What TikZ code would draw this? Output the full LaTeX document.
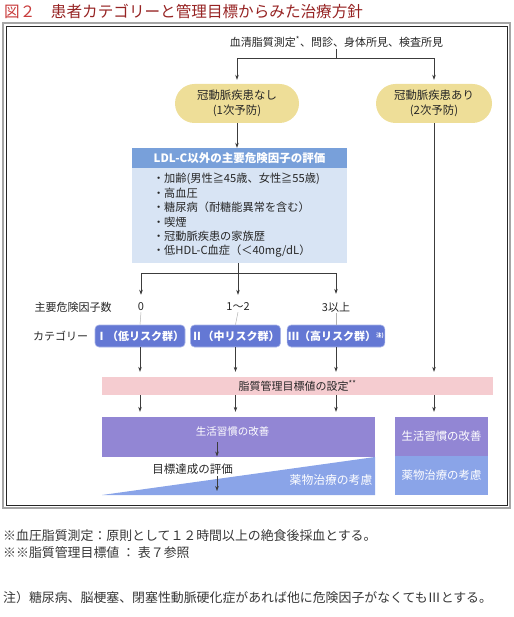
\documentclass[tikz,border=0pt]{standalone}
\usepackage{fontspec}
\usepackage{xcolor}
\usepackage{tikz}
\usetikzlibrary{positioning,shapes.misc,arrows.meta}
\newfontfamily\jpfont{Noto Sans CJK JP}
\definecolor{titlered}{RGB}{200,60,60}
\definecolor{titlebrown}{RGB}{150,35,35}
\definecolor{pillfill}{RGB}{238,222,152}
\definecolor{headblue}{RGB}{120,160,218}
\definecolor{bodyblue}{RGB}{216,228,244}
\definecolor{catblue}{RGB}{100,120,212}
\definecolor{bandpink}{RGB}{245,204,208}
\definecolor{lifepurple}{RGB}{146,134,212}
\definecolor{drugblue}{RGB}{138,164,232}
\definecolor{linegray}{RGB}{60,60,60}
\definecolor{notegray}{RGB}{55,55,55}
\tikzset{
  % --- text ------------------------------------------------------------------
  jtext/.style={font=\jpfont\fontsize{11}{14}\selectfont,inner sep=1pt,
                text=black!85},
  wtext/.style={font=\jpfont\fontsize{#1}{14}\selectfont,inner sep=1pt,
                text=white},
  note/.style={font=\jpfont\fontsize{12.9}{14}\selectfont,inner sep=0pt,
               text=notegray,anchor=west},
  % --- boxes -----------------------------------------------------------------
  pill/.style={rounded rectangle,fill=pillfill,draw=none,minimum width=126pt,
               minimum height=39pt,align=center,inner sep=1pt,
               font=\jpfont\fontsize{11.4}{15}\selectfont,text=black!85},
  catbox/.style={rectangle,rounded corners=4pt,fill=catblue,
                 draw=catblue!55!white,line width=0.6pt,minimum height=22pt,
                 inner sep=1pt,text=white,
                 font=\jpfont\bfseries\fontsize{11}{13}\selectfont},
  % --- connectors ------------------------------------------------------------
  link/.style={linegray,line width=0.6pt},
  faint/.style={black!30,line width=0.5pt},
  arr/.style={link,-{Stealth[length=5pt,width=3.6pt]}},
}

\begin{document}
\begin{tikzpicture}[x=1pt, y=-1pt,
    band/.style={rectangle,fill=bandpink,draw=none,minimum width=391pt,
                 minimum height=18pt,inner sep=0pt,
                 font=\jpfont\fontsize{11}{13}\selectfont,text=black!85},
    lifebox/.style={rectangle,fill=lifepurple,draw=none,inner sep=0pt},
    drugbox/.style={rectangle,fill=drugblue,draw=none,inner sep=0pt}]

  \useasboundingbox (0,0) rectangle (513,617);

  % title and frame
  \node[anchor=west,inner sep=0pt,font=\jpfont\fontsize{15.6}{17}\selectfont]
    (title) at (4,11) {\textcolor{titlered}{図２}\textcolor{titlebrown}{　患者カテゴリーと管理目標からみた治療方針}};
  \draw[black!35,line width=1.2pt] (3,23) rectangle (510,508);
  \draw[black!85,line width=0.9pt] (6,26) rectangle (507,505);

  % top split
  \node[jtext] (src) at (336.5,42) {血清脂質測定\textsuperscript{*}、問診、身体所見、検査所見};
  \coordinate (split) at (336.5,58);
  \node[pill] (pill1) at (237,103.5) {冠動脈疾患なし\\(1次予防)};
  \node[pill,minimum width=118pt] (pill2) at (434,103.5) {冠動脈疾患あり\\(2次予防)};
  \draw[link] (src) -- (split);
  \draw[arr,shorten >=4pt] (split) -| (pill1.north);
  \draw[arr,shorten >=4pt] (split) -| (pill2.north);

  % risk factor box
  \node[rectangle,fill=headblue,minimum width=215pt,minimum height=20pt,
        inner sep=0pt,text=white,font=\jpfont\bfseries\fontsize{11.5}{13}\selectfont]
    (ldlhead) at (239.5,158) {LDL-C以外の主要危険因子の評価};
  \node[rectangle,fill=bodyblue,minimum width=215pt,minimum height=95pt,
        inner xsep=21pt,inner ysep=0pt,text width=173pt,align=left,
        font=\jpfont\fontsize{11.2}{14.4}\selectfont,text=black!85]
    (ldlbody) at (239.5,215.5)
    {・加齢(男性≧45歳、女性≧55歳)\\
     ・高血圧\\
     ・糖尿病（耐糖能異常を含む）\\
     ・喫煙\\
     ・冠動脈疾患の家族歴\\
     ・低HDL-C血症（＜40mg/dL）};
  \draw[arr] (pill1.south) -- (pill1.south |- ldlhead.north);

  % number of risk factors
  \node[jtext] (numlab) at (73,307) {主要危険因子数};
  \node[jtext] (num0) at (141,307) {0};
  \node[jtext] (num1) at (238,307) {1〜2};
  \node[jtext] (num2) at (336,307) {3以上};
  \coordinate (branch) at (238,273);
  \draw[link] (ldlbody.south -| branch) -- (branch);
  \draw[arr,shorten >=7pt] (branch) -| (num0.north);
  \draw[arr,shorten >=7pt] (branch) -- (num1.north);
  \draw[arr,shorten >=7pt] (branch) -| (num2.north);

  % categories
  \node[jtext] (catlab) at (60.5,336) {カテゴリー};
  \node[catbox,minimum width=86pt] (cat1) at (140,336) {Ⅰ（低リスク群）};
  \node[catbox,minimum width=85pt] (cat2) at (235.5,336) {Ⅱ（中リスク群）};
  \node[catbox,minimum width=92pt] (cat3) at (336,336)
    {Ⅲ（高リスク群）\raisebox{3pt}{\fontsize{5.5}{6}\selectfont 注)}};
  \draw[faint] (num0.south) -- (cat1.north);
  \draw[faint] (num1.south) -- (cat2.north);
  \draw[faint] (num2.south) -- (cat3.north);

  % target setting
  \node[band] (band) at (297.5,386) {脂質管理目標値の設定\textsuperscript{**}};
  \draw[arr,shorten >=5pt] (cat1.south) -- (cat1.south |- band.north);
  \draw[arr,shorten >=5pt] (cat2.south) -- (cat2.south |- band.north);
  \draw[arr,shorten >=5pt] (cat3.south) -- (cat3.south |- band.north);
  \draw[arr,shorten >=5pt] (pill2.south) -- (pill2.south |- band.north);

  % primary prevention: lifestyle -> evaluation -> drugs
  \node[lifebox,minimum width=273pt,minimum height=40pt] (life1) at (238.5,437) {};
  \fill[drugblue] (102,495) -- (375,457) -- (375,495) -- cycle;
  \node[wtext=10.5] (life1txt) at (232.5,432) {生活習慣の改善};
  \node[wtext=11.8] (drug1) at (331,480) {薬物治療の考慮};
  \node[jtext,font=\jpfont\fontsize{11.5}{13}\selectfont] (eval) at (192.5,469) {目標達成の評価};
  \coordinate (chk1a) at (217,442);
  \coordinate (chk1b) at (217,456.5);
  \coordinate (chk2a) at (217,476);
  \coordinate (chk2b) at (217,491);
  \draw[arr] (chk1a) -- (chk1b);
  \draw[arr] (chk2a) -- (chk2b);

  % secondary prevention
  \node[lifebox,minimum width=93pt,minimum height=39pt,wtext=11.4] (life2) at (441.5,436.5) {生活習慣の改善};
  \node[drugbox,minimum width=93pt,minimum height=39pt,wtext=11.4] (drug2) at (441.5,475.5) {薬物治療の考慮};

  \draw[arr,shorten >=5pt] (cat1.south |- band.south) -- (cat1.south |- life1.north);
  \draw[arr,shorten >=5pt] (cat2.south |- band.south) -- (cat2.south |- life1.north);
  \draw[arr,shorten >=5pt] (cat3.south |- band.south) -- (cat3.south |- life1.north);
  \draw[arr,shorten >=5pt] (pill2.south |- band.south) -- (pill2.south |- life2.north);

  % notes
  \node[note] (note1) at (3,536) {※血圧脂質測定：原則として１２時間以上の絶食後採血とする。};
  \node[note] (note2) at (3,553) {※※脂質管理目標値 ： 表７参照};
  \node[note] (note3) at (3,598) {注）糖尿病、脳梗塞、閉塞性動脈硬化症があれば他に危険因子がなくてもⅢとする。};
\end{tikzpicture}
\end{document}
